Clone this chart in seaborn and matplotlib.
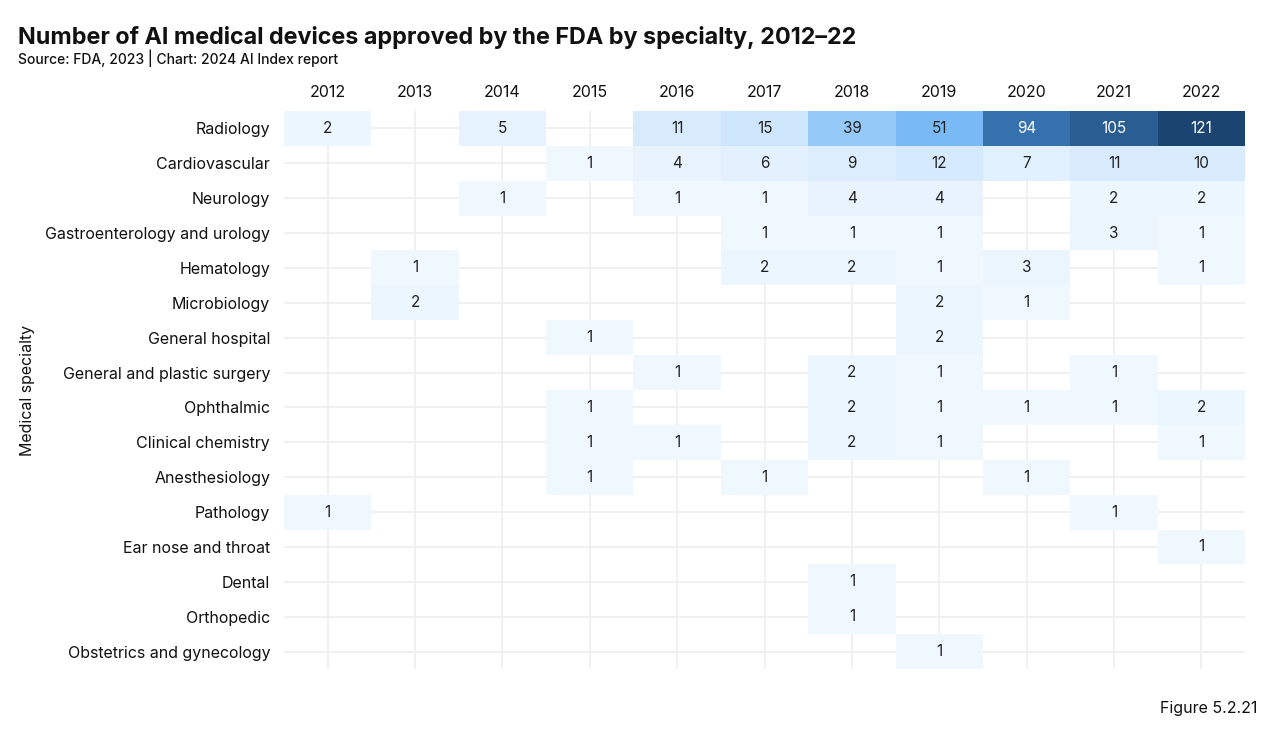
import matplotlib
matplotlib.use('Agg')
import matplotlib.pyplot as plt
from matplotlib.colors import LinearSegmentedColormap
import seaborn as sns
import pandas as pd
import numpy as np

years = ['2012', '2013', '2014', '2015', '2016', '2017', '2018', '2019', '2020', '2021', '2022']
specialties = ['Radiology', 'Cardiovascular', 'Neurology', 'Gastroenterology and urology', 'Hematology',
               'Microbiology', 'General hospital', 'General and plastic surgery', 'Ophthalmic',
               'Clinical chemistry', 'Anesthesiology', 'Pathology', 'Ear nose and throat', 'Dental',
               'Orthopedic', 'Obstetrics and gynecology']

# one list per specialty, 0 = no approvals (left blank)
radiology = [2, 0, 5, 0, 11, 15, 39, 51, 94, 105, 121]
cardiovascular = [0, 0, 0, 1, 4, 6, 9, 12, 7, 11, 10]
neurology = [0, 0, 1, 0, 1, 1, 4, 4, 0, 2, 2]
gastro_urology = [0, 0, 0, 0, 0, 1, 1, 1, 0, 3, 1]
hematology = [0, 1, 0, 0, 0, 2, 2, 1, 3, 0, 1]
microbiology = [0, 2, 0, 0, 0, 0, 0, 2, 1, 0, 0]
general_hospital = [0, 0, 0, 1, 0, 0, 0, 2, 0, 0, 0]
plastic_surgery = [0, 0, 0, 0, 1, 0, 2, 1, 0, 1, 0]
ophthalmic = [0, 0, 0, 1, 0, 0, 2, 1, 1, 1, 2]
clinical_chemistry = [0, 0, 0, 1, 1, 0, 2, 1, 0, 0, 1]
anesthesiology = [0, 0, 0, 1, 0, 1, 0, 0, 1, 0, 0]
pathology = [1, 0, 0, 0, 0, 0, 0, 0, 0, 1, 0]
ent = [0, 0, 0, 0, 0, 0, 0, 0, 0, 0, 1]
dental = [0, 0, 0, 0, 0, 0, 1, 0, 0, 0, 0]
orthopedic = [0, 0, 0, 0, 0, 0, 1, 0, 0, 0, 0]
obgyn = [0, 0, 0, 0, 0, 0, 0, 1, 0, 0, 0]

rows = [radiology, cardiovascular, neurology, gastro_urology, hematology, microbiology, general_hospital,
        plastic_surgery, ophthalmic, clinical_chemistry, anesthesiology, pathology, ent, dental,
        orthopedic, obgyn]

df = pd.DataFrame(rows, index=specialties, columns=years).astype(float)
df = df.replace(0, np.nan)

vmax = 121
cmap = LinearSegmentedColormap.from_list(
    'ai_blues', [(0.0, '#F1F8FF'), (51 / vmax, '#78BAF6'), (94 / vmax, '#3571AC'), (1.0, '#1B4470')])

sns.set_style('white')
plt.rcParams['font.family'] = ['Inter', 'DejaVu Sans']

fig = plt.figure(figsize=(12.8, 7.33), dpi=100)
ax = fig.add_axes([0.2219, 0.0873, 0.7508, 0.7613])

sns.heatmap(df, ax=ax, cmap=cmap, vmin=0, vmax=vmax, cbar=False, annot=False, linewidths=0)

# value labels
for i, spec in enumerate(specialties):
    for j, yr in enumerate(years):
        v = df.loc[spec, yr]
        if np.isnan(v):
            continue
        ax.text(j + 0.5, i + 0.5, f'{int(v)}', ha='center', va='center', fontsize=11,
                color='white' if v > 80 else '#222222')

ax.grid(True, color='#F0F0F0', linewidth=1.4, zorder=0)
ax.set_axisbelow(True)
for c in ax.collections:
    c.set_zorder(2)

ax.xaxis.tick_top()
ax.tick_params(axis='both', length=0, labelsize=11.5, labelcolor='#111111')
ax.tick_params(axis='x', pad=8)
ax.tick_params(axis='y', pad=10)
ax.set_xticklabels(years, rotation=0)
ax.set_yticklabels(specialties, rotation=0, va='center_baseline')
ax.set_xlabel('')
ax.set_ylabel('Medical specialty', fontsize=11.5, color='#111111')
ax.yaxis.set_label_coords(-0.259, 0.5)
for s in ax.spines.values():
    s.set_visible(False)

fig.text(0.014, 0.949, 'Number of AI medical devices approved by the FDA by specialty, 2012–22',
         fontsize=16.8, fontweight='bold', color='#111111', va='center')
fig.text(0.014, 0.921, 'Source: FDA, 2023 | Chart: 2024 AI Index report', fontsize=10,
         fontweight='medium', color='#111111', va='center')
fig.text(0.982, 0.033, 'Figure 5.2.21', fontsize=11.5, color='#111111', ha='right', va='center')

fig.savefig('out.png', dpi=100)
